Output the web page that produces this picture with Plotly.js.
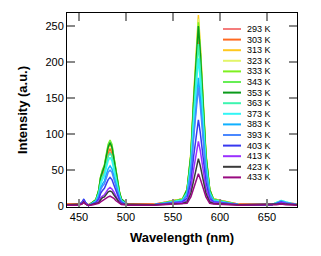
<!DOCTYPE html>
<html>
<head>
<meta charset="utf-8">
<script src="https://cdn.plot.ly/plotly-3.0.1.min.js"></script>
<style>html,body{margin:0;padding:0;background:#fff;}#chart{width:321px;height:256px;}</style>
</head>
<body>
<div id="chart"></div>
<script>
// Wavelength grid (nm)
var wavelength = [437,450,453,455,457,460, 465,468,471,473,475,477,479,481,483,485,487,489,491,493,495,498,502, 530, 560,565,569,572,575,577,579,582,585,589,593, 620,655,660,665,670,682];

var seriesNames = ['293 K','303 K','313 K','323 K','333 K','343 K','353 K','363 K','373 K','383 K','393 K','403 K','413 K','423 K','433 K'];
var seriesColors = ['#f47c7c','#ff6a20','#ffc81e','#e2f56a','#7ef020','#66ee55','#0a9a1a','#3cf5b0','#33f5f5','#10b0ff','#4a88ff','#3838f0','#9a30ff','#3a3a3a','#990a80'];

var i293 = [3,3,5,7,5,2, 6,9,19,34,41,47,59,70,75,70,56,41,27,16,9,6,3, 3, 10,21,66,136,200,235,200,136,66,21,10, 3,3,4.5,6,5,3];
var i303 = [3,3,5,7,5,2, 6,9,20,36,44,50,62,74,80,74,60,44,29,17,9,6,3, 3, 10,22,67,139,204,240,204,139,67,22,10, 3,3,4,6,5,3];
var i313 = [2,2,4,6,4,1, 5,9,22,39,47,53,67,80,86,80,65,47,31,19,10,5,2, 2, 10,24,74,154,225,265,225,154,74,24,10, 2,2,3,5,4,2];
var i323 = [2,2,4,7,4,1, 6,9,23,41,50,56,70,84,90,84,68,50,33,20,10,6,2, 2, 10,23,73,151,221,260,221,151,73,23,10, 2,2,3,5,4,2];
var i333 = [2,2,4,7,4,1, 6,9,23,41,51,57,72,86,92,86,69,51,33,20,10,6,2, 2, 10,23,71,148,217,255,217,148,71,23,10, 2,2,4,6,4,2];
var i343 = [2,2,4,7,4,1, 6,9,22,40,49,56,70,84,90,84,68,50,33,20,10,6,2, 2, 9,23,70,145,213,250,213,145,70,23,9, 2,2,4,6,4,2];
var i353 = [2,2,4,7,4,1, 6,9,22,40,48,55,69,82,88,82,66,48,32,19,10,6,2, 2, 9,23,70,145,213,250,213,145,70,23,9, 2,2,5,7,5,2];
var i363 = [2,2,4,8,4,1, 5,8,19,33,41,46,58,69,74,69,56,41,27,16,8,5,2, 2, 9,20,63,131,191,225,191,131,63,20,9, 2,2,5,8,6,2];
var i373 = [2,2,4,8,4,1, 5,7,17,31,37,42,53,63,68,63,51,37,25,15,8,5,2, 2, 8,18,57,119,174,205,174,119,57,18,8, 2,2,5,8,6,2];
var i383 = [2,2,5,9,5,1, 4,6,14,25,31,35,44,52,56,52,42,31,21,12,7,4,2, 2, 7,16,50,103,151,178,151,103,50,16,7, 2,2,4,7,5,2];
var i393 = [2,2,5,9,5,1, 4,6,13,23,28,31,39,47,50,47,38,28,19,11,6,4,2, 2, 7,15,46,96,140,165,140,96,46,15,7, 2,2,4,7,5,2];
var i403 = [2,2,5,10,5,1, 4,5,10,18,22,25,31,37,40,37,30,22,15,9,5,4,2, 2, 6,11,34,70,102,120,102,70,34,11,6, 2,2,4,6,4,2];
var i413 = [2,2,4,7,4,1, 3,4,7,12,14,16,20,24,26,24,20,14,10,6,4,3,2, 2, 5,8,25,52,77,90,77,52,25,8,5, 2,2,3,5,4,2];
var i423 = [2,2,3,6,3,1, 3,4,5,9,12,13,16,20,21,20,16,12,8,5,3,3,2, 2, 4,6,18,38,56,66,56,38,18,6,4, 2,2,3,4,3,2];
var i433 = [1.5,1.5,3,5,3,1, 2,3,4,6,8,9,11,13,14,13,11,8,6,4,2.5,2,1.5, 1.5, 3,4,13,26,38,45,38,26,13,4,3, 1.5,1.5,2,3,2,1.5];

var intensities = [i293,i303,i313,i323,i333,i343,i353,i363,i373,i383,i393,i403,i413,i423,i433];

var xTicks = [450,500,550,600,650];
var yTicks = [0,50,100,150,200,250];

var traces = intensities.map(function(y, k){
  return {x: wavelength, y: y, type: 'scatter', mode: 'lines', name: seriesNames[k],
          line: {color: seriesColors[k], width: 1.5}, showlegend: false};
});

// custom compact legend
var L = 67, R = 297, T = 13, B = 207;
var shapes = [], annotations = [];
seriesNames.forEach(function(n, k){
  var ypx = 29 + k * 10.6;
  var yp = (B - ypx) / (B - T);
  shapes.push({type: 'line', xref: 'paper', yref: 'paper',
    x0: (223 - L) / (R - L), x1: (241 - L) / (R - L), y0: yp, y1: yp,
    line: {color: seriesColors[k], width: 2}});
  annotations.push({xref: 'paper', yref: 'paper', x: (245 - L) / (R - L), y: yp,
    xanchor: 'left', yanchor: 'middle', text: n, showarrow: false,
    font: {family: 'Liberation Sans, Arial, sans-serif', size: 9, color: '#000'}});
});

var axisCommon = {showline: true, linecolor: '#000', linewidth: 1, mirror: 'ticks',
  ticks: 'inside', ticklen: 8, tickwidth: 1.5, tickcolor: '#888',
  showgrid: false, zeroline: false,
  tickfont: {family: 'Liberation Sans, Arial, sans-serif', size: 11, color: '#000'}};

var layout = {
  width: 321, height: 256,
  margin: {l: L, r: 321 - R, t: T, b: 256 - B},
  paper_bgcolor: '#fff', plot_bgcolor: '#fff',
  xaxis: Object.assign({}, axisCommon, {range: [437.2, 681.9], tickvals: xTicks, ticktext: xTicks.map(String),
    title: {text: '<b>Wavelength (nm)</b>', standoff: 10, font: {family: 'Liberation Sans, Arial, sans-serif', size: 13, color: '#000'}}}),
  yaxis: Object.assign({}, axisCommon, {range: [-1, 268], tickvals: yTicks, ticktext: yTicks.map(String),
    title: {text: '<b>Intensity (a.u.)</b>', standoff: 14, font: {family: 'Liberation Sans, Arial, sans-serif', size: 13, color: '#000'}}}),
  shapes: shapes,
  annotations: annotations
};

Plotly.newPlot('chart', traces, layout, {displayModeBar: false, staticPlot: true});
</script>
</body>
</html>
